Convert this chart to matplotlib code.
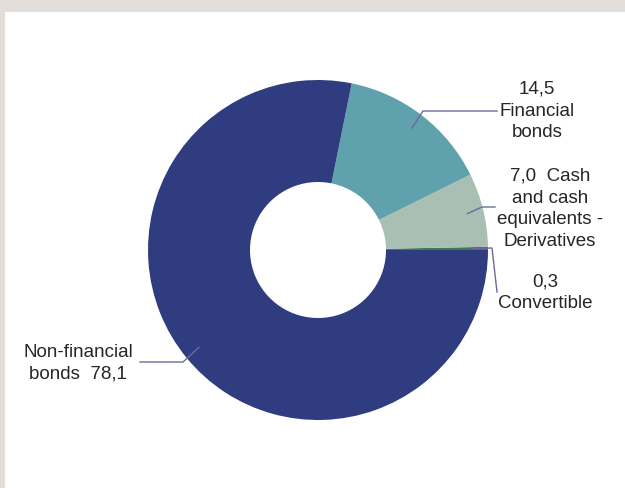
import numpy as np
import matplotlib
matplotlib.use("Agg")
import matplotlib.pyplot as plt
from matplotlib.patches import Rectangle

categories = ["Convertible", "Cash and cash equivalents - Derivatives", "Financial bonds", "Non-financial bonds"]
values = [0.3, 7.0, 14.5, 78.1]
colors = ["#3f7a52", "#a9bfb4", "#5fa2ad", "#2f3d80"]
label_texts = ["0,3\nConvertible",
               "7,0  Cash\nand cash\nequivalents -\nDerivatives",
               "14,5\nFinancial\nbonds",
               "Non-financial\nbonds  78,1"]

W, H = 625, 488
fig = plt.figure(figsize=(W / 100, H / 100), dpi=100)
fig.patch.set_facecolor("#e2ddd8")
ax = fig.add_axes([0, 0, 1, 1])
ax.add_patch(Rectangle((5, 0), W - 5, H - 12, facecolor="white", edgecolor="none", zorder=0))

cx, cy, R = 318, H - 250, 170
wedges, _ = ax.pie(values, colors=colors, startangle=0, counterclock=True,
                   center=(cx, cy), radius=R, frame=True,
                   wedgeprops=dict(width=R * 0.6, linewidth=0))
ax.set_xlim(0, W)
ax.set_ylim(0, H)
ax.set_aspect("equal")
ax.axis("off")

total = sum(values)
cum = np.cumsum([0] + values)
mids = [(cum[i] + cum[i + 1]) / 2 / total * 360 for i in range(len(values))]
anchors = [(cx + 0.905 * R * np.cos(np.radians(m)), cy + 0.905 * R * np.sin(np.radians(m))) for m in mids]

lc = "#6b6a9c"
elbows = [[(492, 248), (497, 292)],
          [(482, 207), (495, 207)],
          [(423, 111), (497, 111)],
          [(183, 362), (140, 362)]]
text_pos = [(545, 293, "center"), (550, 209, "center"), (537, 111, "center"), (78, 363, "center")]

for (ax0, ay0), el, (tx, ty, ha), txt in zip(anchors, elbows, text_pos, label_texts):
    xs = [ax0] + [p[0] for p in el]
    ys = [ay0] + [H - p[1] for p in el]
    ax.plot(xs, ys, color=lc, lw=1.0, zorder=5)
    ax.text(tx, H - ty, txt, ha=ha, va="center", fontsize=13.5,
            family="Liberation Sans", color="#262626", linespacing=1.38, zorder=6)

fig.savefig("out.png", dpi=100, facecolor=fig.get_facecolor())
